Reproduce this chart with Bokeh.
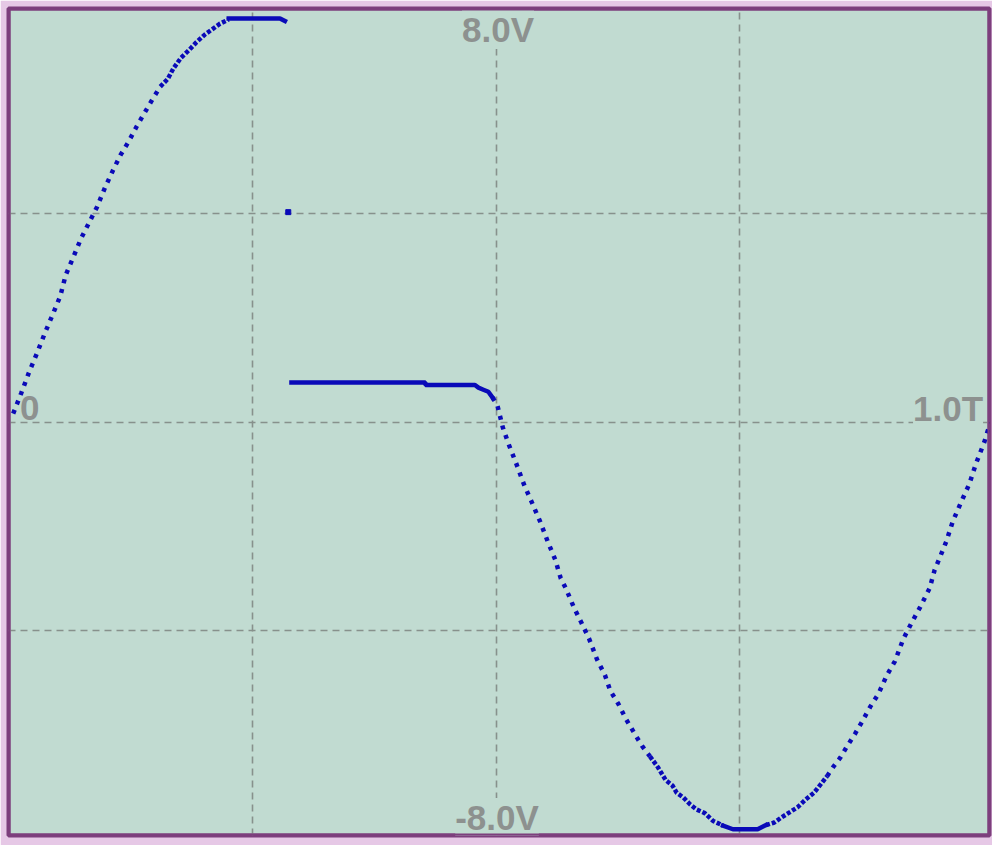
from bokeh.plotting import figure
from bokeh.models import Range1d, FixedTicker, BoxAnnotation
from bokeh.embed import file_html
from bokeh.resources import INLINE
from bokeh.core.properties import value

# ---- data (time in periods T, voltage in V) ----
rise_steep_t = [0.0043, 0.0127, 0.0209, 0.0287, 0.0369, 0.0450, 0.0527, 0.0582, 0.0664, 0.0741,
                0.0823, 0.0904, 0.0990, 0.1067, 0.1146, 0.1227, 0.1312, 0.1393, 0.1471, 0.1553]
rise_steep_v = [0.16, 0.56, 0.97, 1.32, 1.71, 2.07, 2.42, 2.82, 3.18, 3.53,
                3.83, 4.13, 4.52, 4.83, 5.13, 5.38, 5.68, 5.94, 6.19, 6.44]
rise_top_t = [0.1553, 0.1631, 0.1685, 0.1764, 0.1848, 0.1923, 0.2011, 0.2086, 0.2167, 0.2256]
rise_top_v = [6.44, 6.59, 6.78, 6.99, 7.14, 7.29, 7.44, 7.54, 7.65, 7.73]
peak_t = [0.2256, 0.2782, 0.2833]
peak_v = [7.75, 7.75, 7.70]
spike_t = [0.2867]
spike_v = [4.03]
plateau_t = [0.2900, 0.4275, 0.4275, 0.4784, 0.4819, 0.4870, 0.4921, 0.4964]
plateau_v = [0.76, 0.76, 0.71, 0.71, 0.66, 0.62, 0.58, 0.47]
fall_t = [0.4964, 0.5015, 0.5069, 0.5124, 0.5206, 0.5287, 0.5369, 0.5450, 0.5532, 0.5609,
          0.5664, 0.5718, 0.5799, 0.5878, 0.5955, 0.6037, 0.6118, 0.6173, 0.6255, 0.6336,
          0.6418, 0.6499, 0.6580]
fall_v = [0.47, 0.31, -0.10, -0.40, -0.79, -1.20, -1.55, -1.90, -2.30, -2.65,
          -3.00, -3.20, -3.56, -3.86, -4.16, -4.56, -4.86, -5.16, -5.41, -5.71,
          -5.97, -6.22, -6.42]
trough_a_t = [0.6580, 0.6662, 0.6743, 0.6811, 0.6855, 0.6923, 0.6991, 0.7059, 0.7143, 0.7228, 0.7330]
trough_a_v = [-6.42, -6.63, -6.88, -6.98, -7.12, -7.21, -7.34, -7.44, -7.51, -7.66, -7.75]
bottom_t = [0.7330, 0.7432, 0.7686, 0.7772]
bottom_v = [-7.75, -7.82, -7.82, -7.74]
trough_b_t = [0.7772, 0.7857, 0.7925, 0.8009, 0.8094, 0.8179, 0.8264, 0.8332, 0.8399]
trough_b_v = [-7.74, -7.69, -7.60, -7.50, -7.40, -7.25, -7.12, -6.96, -6.80]
rise2_t = [0.8399, 0.8467, 0.8536, 0.8603, 0.8688, 0.8756, 0.8841, 0.8926, 0.9010, 0.9096,
           0.9180, 0.9265, 0.9350, 0.9452, 0.9503, 0.9554, 0.9621, 0.9689, 0.9774, 0.9859,
           0.9927, 1.0012, 1.0046, 1.0079]
rise2_v = [-6.80, -6.61, -6.44, -6.23, -5.98, -5.76, -5.47, -5.22, -4.87, -4.59,
           -4.17, -3.86, -3.57, -3.19, -2.84, -2.61, -2.30, -1.91, -1.54, -1.19,
           -0.80, -0.39, -0.18, -0.01]

x_grid_ticks = [0.25, 0.5, 0.75]
y_grid_ticks = [-4.0, 0.0, 4.0]

label_text = ["8.0V", "-8.0V", "0", "1.0T"]

# ---- styles ----
BG = "#c1dbd1"
GRID = "#87918c"
TXT = "#8d918f"
TRACE = "#0a0ab8"
BORDER = "#7d3f7d"

p = figure(width=992, height=845, output_backend="svg", toolbar_location=None,
           x_range=Range1d(-0.0005, 1.0066), y_range=Range1d(-7.94, 7.94),
           x_axis_location=None, y_axis_location=None,
           min_border_left=8, min_border_top=8, min_border_right=3, min_border_bottom=10)
p.background_fill_color = BG
p.border_fill_color = "#e6c8e6"
p.outline_line_color = BORDER
p.outline_line_width = 4

p.xgrid.ticker = FixedTicker(ticks=x_grid_ticks)
p.ygrid.ticker = FixedTicker(ticks=y_grid_ticks)
for g in (p.xgrid, p.ygrid):
    g.grid_line_color = GRID
    g.grid_line_width = 1.6
    g.grid_line_dash = "7 5"

ymax, ymin = p.y_range.end, p.y_range.start
font = value("Liberation Sans")
lab = dict(text_font=font, text_font_size="35px", text_font_style="bold", text_color=TXT,
           text_baseline="middle", background_fill_color=BG)
p.text(x=[0.5], y=[ymax], text=[label_text[0]], text_align="center", x_offset=2, y_offset=21, **lab)
p.text(x=[0.5], y=[ymin], text=[label_text[1]], text_align="center", x_offset=1, y_offset=-18, **lab)
p.text(x=[0.0], y=[0.0], text=[label_text[2]], text_align="left", x_offset=11, y_offset=-14, **lab)
p.text(x=[1.0], y=[0.0], text=[label_text[3]], text_align="right", x_offset=0, y_offset=-14, **lab)

steep = dict(line_color=TRACE, line_width=4.5, line_dash="4 6", line_cap="butt")
shallow = dict(line_color=TRACE, line_width=4.5, line_dash="4 2", line_cap="butt")
solid = dict(line_color=TRACE, line_width=4.5, line_cap="square")

p.line(rise_steep_t, rise_steep_v, **steep)
p.line(rise_top_t, rise_top_v, **shallow)
p.line(peak_t, peak_v, **solid)
p.scatter(spike_t, spike_v, marker="square", size=5, color=TRACE)
p.line(plateau_t, plateau_v, **solid)
p.line(fall_t, fall_v, **steep)
p.line(trough_a_t, trough_a_v, **shallow)
p.line(bottom_t, bottom_v, **solid)
p.line(trough_b_t, trough_b_v, **shallow)
p.line(rise2_t, rise2_v, **steep)

p.add_layout(BoxAnnotation(fill_alpha=0, line_color=BORDER, line_alpha=1.0, line_width=4,
                           level="overlay"))

open("out.html", "w").write(file_html(p, INLINE))
